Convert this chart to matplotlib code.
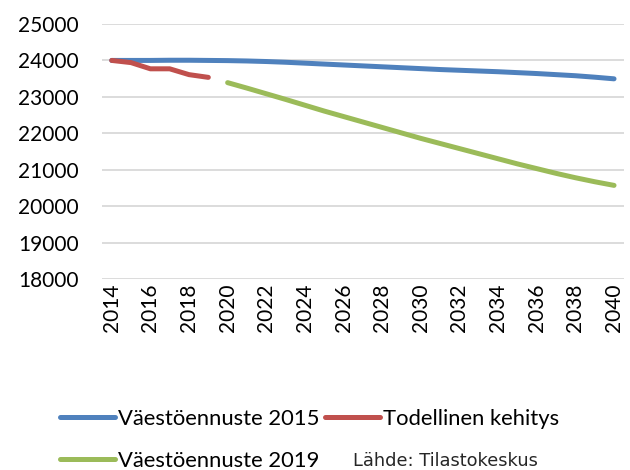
import matplotlib.pyplot as plt
from matplotlib.ticker import MultipleLocator

plt.rcParams['font.family'] = ['Lato', 'DejaVu Sans']

years = list(range(2014, 2041))

# Väestöennuste 2015
ennuste_2015 = [24000, 24000, 24000, 24005, 24005, 24000, 23995, 23985, 23970,
                23950, 23925, 23900, 23875, 23850, 23825, 23800, 23775, 23750,
                23730, 23710, 23690, 23665, 23640, 23610, 23580, 23540, 23495]

# Todellinen kehitys
tod_years = [2014, 2015, 2016, 2017, 2018, 2019]
todellinen = [24000, 23940, 23770, 23770, 23610, 23535]

# Väestöennuste 2019
enn19_years = list(range(2020, 2041))
ennuste_2019 = [23390, 23240, 23085, 22930, 22770, 22610, 22460, 22310, 22160,
                22010, 21860, 21720, 21580, 21440, 21300, 21160, 21030, 20900,
                20780, 20670, 20570]

fig = plt.figure(figsize=(6.3, 4.7), dpi=100)
ax = fig.add_axes([0.162, 1 - 279 / 470, 0.828, 255 / 470])

lw = 3.6
ax.plot(years, ennuste_2015, color='#4F81BD', lw=lw, solid_capstyle='round',
        label='Väestöennuste 2015', zorder=3)
ax.plot(tod_years, todellinen, color='#C0504D', lw=lw, solid_capstyle='round',
        label='Todellinen kehitys', zorder=4)
ax.plot(enn19_years, ennuste_2019, color='#9BBB59', lw=lw, solid_capstyle='round',
        label='Väestöennuste 2019', zorder=3)

ax.set_xlim(2013.5, 2040.5)
ax.set_ylim(18000, 25000)
ax.yaxis.set_major_locator(MultipleLocator(1000))
ax.set_xticks(years[::2])
ax.set_xticklabels([str(y) for y in years[::2]], rotation=90)
ax.grid(axis='y', color='#D9D9D9', lw=1.3)
ax.set_axisbelow(True)
for s in ax.spines.values():
    s.set_visible(False)
ax.tick_params(axis='y', length=0, pad=17, labelsize=15, colors='#000000')
ax.tick_params(axis='x', length=0, pad=3, labelsize=15, colors='#000000')

handles, labels = ax.get_legend_handles_labels()
order = [0, 2, 1]
fig.legend([handles[i] for i in order], [labels[i] for i in order],
           loc='upper left', bbox_to_anchor=(60 / 630, 1 - 409 / 470), ncol=2,
           frameon=False, fontsize=15.8, handlelength=2.5, handletextpad=0.14,
           columnspacing=0.27, labelspacing=1.0, borderaxespad=0,
           borderpad=0)

fig.text(353 / 630, 1 - 461 / 470, 'Lähde: Tilastokeskus', fontsize=12.8,
         family='DejaVu Sans', color='#262626', va='center', ha='left')

fig.savefig('out.png', dpi=100)
